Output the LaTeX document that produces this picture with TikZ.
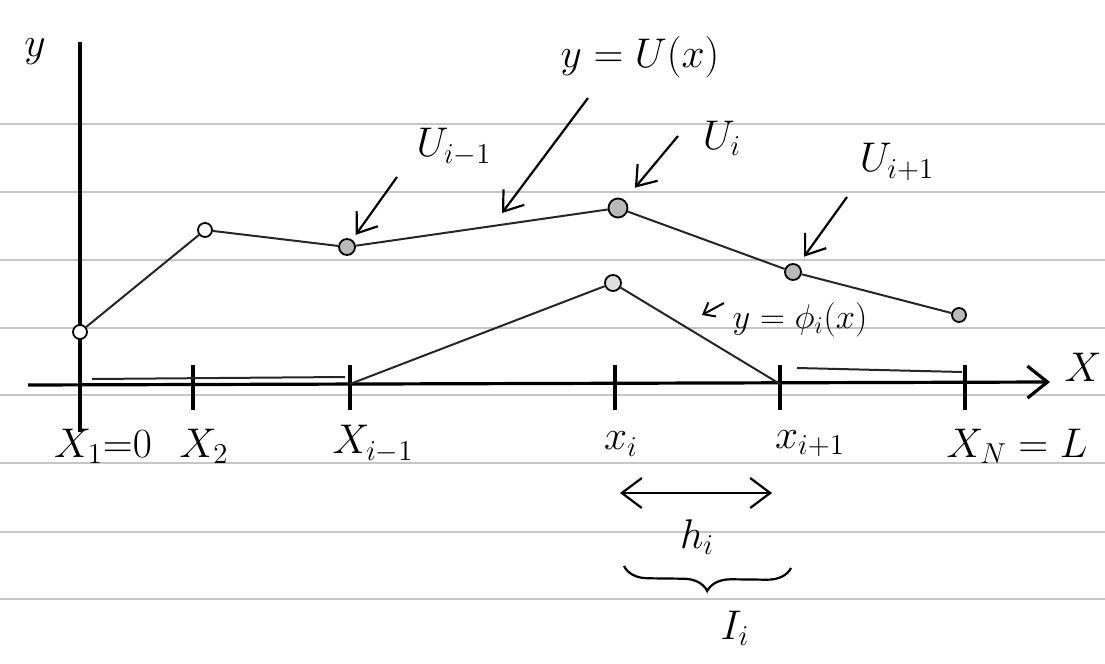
\documentclass[tikz,border=0pt]{standalone}
\usepackage{amsmath,amssymb}
\usepackage{tikz}
\usetikzlibrary{arrows.meta,decorations.pathreplacing}

\tikzset{
  ruled/.style={gray!45, line width=0.6pt},
  axisline/.style={line width=1.6pt},
  curve/.style={line width=1pt, black!85},
  handarrow/.style={line width=1.1pt, -{Straight Barb[length=9pt,width=13pt]}},
  opendot/.style={circle, draw, line width=0.9pt, fill=white, inner sep=0pt, minimum size=7pt},
  fulldot/.style={circle, draw, line width=0.9pt, fill=gray!55, inner sep=0pt, minimum size=8pt},
  lab/.style={font=\huge},
}

\begin{document}
\begin{tikzpicture}[x=0.5pt, y=-0.5pt]
\useasboundingbox (0,0) rectangle (1105,664);

% ruled paper
\foreach \yy in {124,192,260,328,395,463,532,599} {
    \draw[ruled] (0,\yy) -- (1105,\yy);
}

% axes
\coordinate (ytop) at (80,42);
\coordinate (ybot) at (80,432);
\coordinate (xleft) at (28,385);
\coordinate (xright) at (1050,382);
\draw[axisline] (ybot) -- (ytop);
\draw[axisline, -{Straight Barb[length=10pt,width=16pt]}] (xleft) -- (xright);
\node[lab] (ylab) at (35,52) {$y$};
\node[lab] (xlab) at (1083,367) {$X$};

\foreach \xx/\nm in {193/2,350/im,615/i,780/ip,965/N} {
    \draw[axisline] (\xx,365) -- (\xx,410);
    \coordinate (k\nm) at (\xx,384);
}

\node[lab] (lx1) at (103,446) {$X_1{=}0$};
\node[lab] (lx2) at (204,446) {$X_2$};
\node[lab] (lxim) at (373,444) {$X_{i-1}$};
\node[lab] (lxi) at (621,444) {$x_i$};
\node[lab] (lxip) at (810,444) {$x_{i+1}$};
\node[lab] (lxN) at (1017,446) {$X_N = L$};

% y = U(x)
\node[opendot] (u1) at (80,332) {};
\node[opendot] (u2) at (205,230) {};
\node[fulldot] (u3) at (347,247) {};
\node[fulldot, minimum size=9.5pt] (u4) at (618,208) {};
\node[fulldot] (u5) at (793,272) {};
\node[fulldot, minimum size=7pt] (u6) at (959,315) {};
\draw[curve] (u1) -- (u2) -- (u3) -- (u4) -- (u5) -- (u6);

% hat function
\coordinate (z0) at (92,379);
\coordinate (z1) at (345,377);
\node[fulldot, fill=gray!25] (hp) at (613,283) {};
\coordinate (z2) at (797,368);
\coordinate (z3) at (962,372);
\draw[curve] (z0) -- (z1);
\draw[curve] (kim) -- (hp) -- (kip);
\draw[curve] (z2) -- (z3);

% labels with arrows
\node[lab] (lu3) at (454,147) {$U_{i-1}$};
\coordinate (a3) at (397,177);
\draw[handarrow, shorten >=3pt] (a3) -- (u3);

\node[lab] (lU) at (640,57) {$y=U(x)$};
\coordinate (aU) at (588,98);
\coordinate (bU) at (502,213);
\draw[handarrow] (aU) -- (bU);

\node[lab] (lu4) at (722,138) {$U_i$};
\coordinate (a4) at (678,136);
\draw[handarrow, shorten >=8pt] (a4) -- (u4);

\node[lab] (lu5) at (897,162) {$U_{i+1}$};
\coordinate (a5) at (847,197);
\draw[handarrow, shorten >=5pt] (a5) -- (u5);

\node[font=\LARGE] (lphi) at (800,320) {$y=\phi_i(x)$};
\coordinate (pa) at (724,303);
\coordinate (pb) at (702,315);
\draw[line width=1pt, -{Straight Barb[length=5pt,width=8pt]}] (pa) -- (pb);

% element length and interval
\coordinate (hl) at (620,493);
\coordinate (hr) at (772,493);
\draw[line width=1.1pt, {Straight Barb[length=10pt,width=15pt]}-{Straight Barb[length=10pt,width=15pt]}] (hl) -- (hr);
\node[lab] (lh) at (697,537) {$h_i$};

\coordinate (bl) at (624,566);
\coordinate (br) at (791,568);
\draw[line width=1.1pt, decorate, decoration={brace, amplitude=12pt, mirror}] (bl) -- (br);
\node[lab] (lI) at (735,628) {$I_i$};
\end{tikzpicture}
\end{document}
